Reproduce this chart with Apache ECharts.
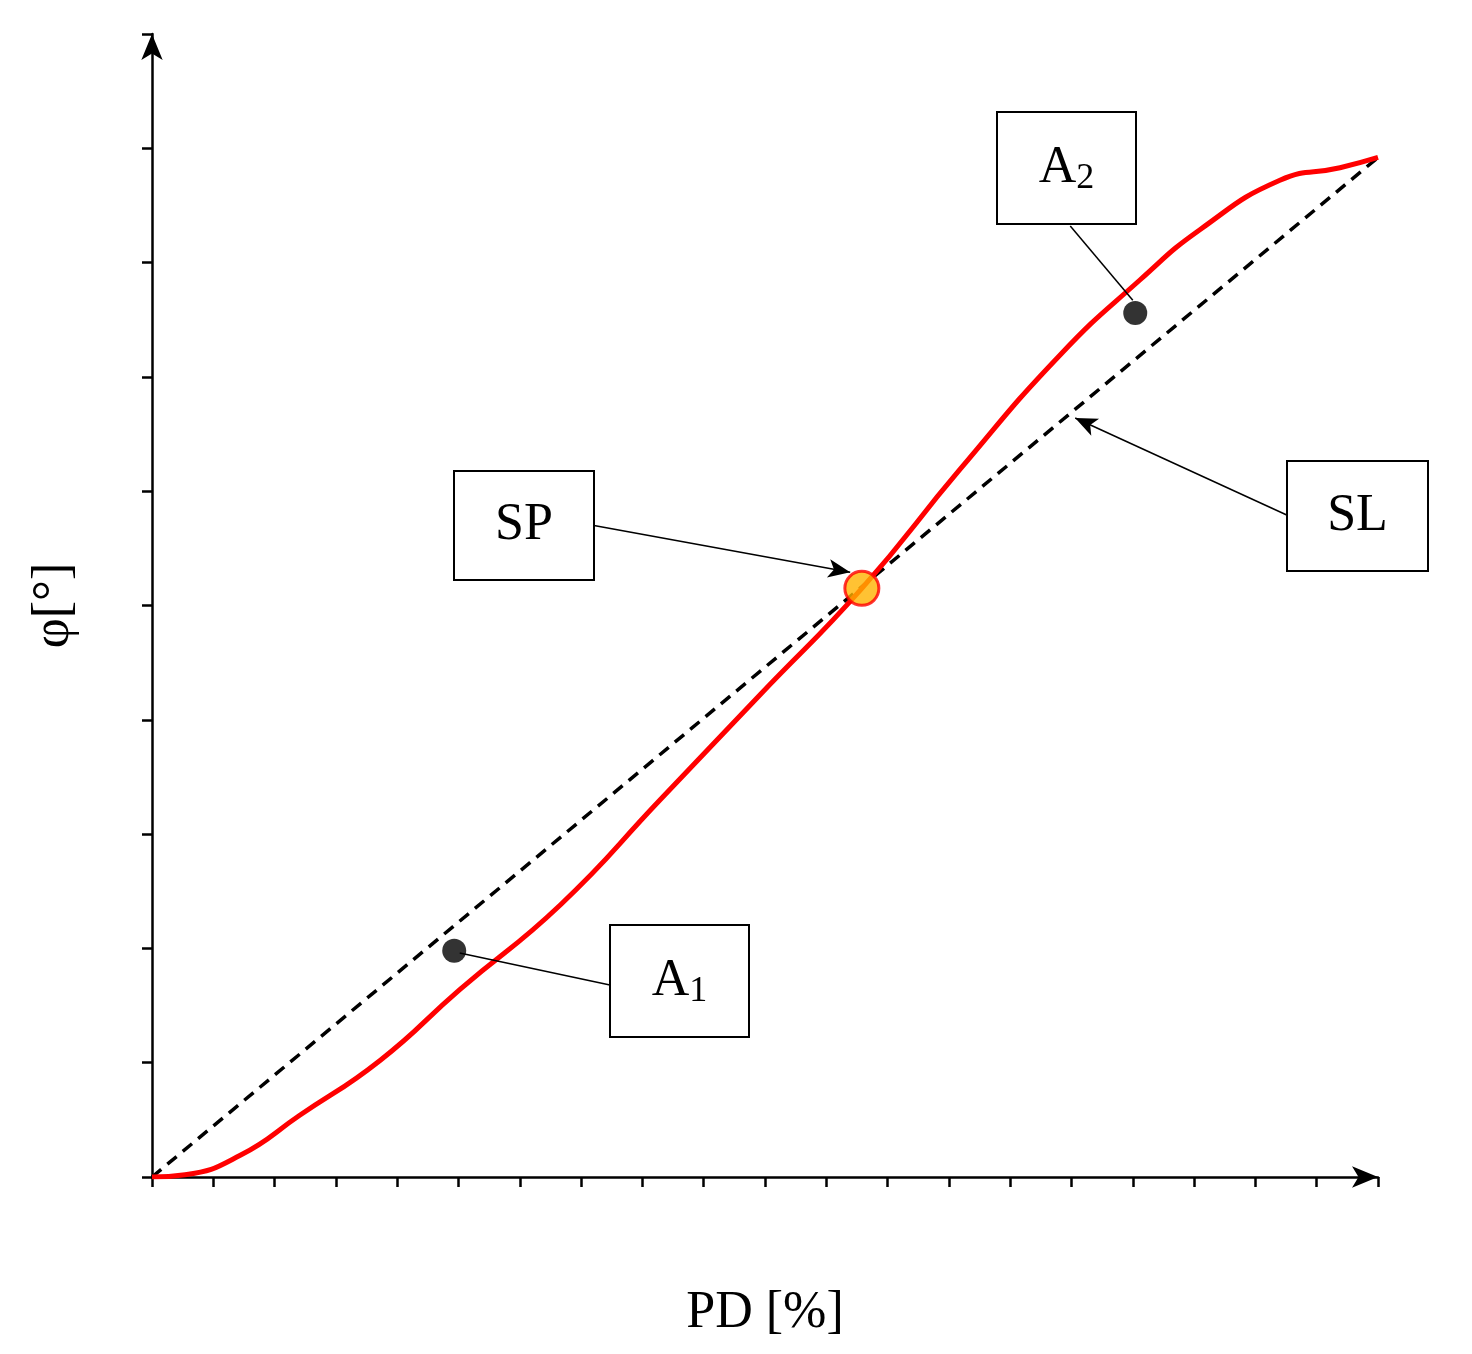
<!DOCTYPE html><html><head><meta charset="utf-8">
<script src="https://cdn.jsdelivr.net/npm/echarts@6/dist/echarts.min.js"></script>
<style>html,body{margin:0;background:#fff}#c{width:1472px;height:1354px}</style></head><body><div id="c"></div><script>
const curveX=[0,0.54,1.44,2.41,3.72,5.02,6.66,8.29,9.92,11.58,13.18,14.81,16.12,17.10,18.40,19.38,20];
const curveY=[0,0.02,0.19,0.54,1.02,1.64,2.38,3.30,4.22,5.15,6.19,7.19,7.85,8.29,8.72,8.83,8.92];
const lineX=[0,20], lineY=[0,8.92];
const spPoint=[11.58,5.15];
const dots=[[4.93,1.98],[16.04,7.56]];
const F='Liberation Serif';
const c=echarts.init(document.getElementById('c'));
const ax=(inside)=>({type:'value',min:0,max:20,interval:1,axisLabel:{show:false},splitLine:{show:false},
 axisLine:{show:!inside,lineStyle:{color:'#000',width:2.5},symbol:['none','arrow'],symbolSize:[16,26]},
 axisTick:{show:true,inside:inside,length:10,lineStyle:{color:'#000',width:2.5}}});
const ay=(inside)=>({type:'value',min:0,max:10,interval:1,axisLabel:{show:false},splitLine:{show:false},
 axisLine:{show:!inside,lineStyle:{color:'#000',width:2.5},symbol:['none','arrow'],symbolSize:[16,26]},
 axisTick:{show:true,inside:inside,length:10,lineStyle:{color:'#000',width:2.5}}});
const x1=ax(false);x1.name='PD [%]';x1.nameLocation='middle';x1.nameGap=110;x1.nameTextStyle={fontFamily:F,fontSize:52,color:'#000'};
const y1=ay(false);y1.name='φ[°]';y1.nameLocation='middle';y1.nameGap=72;y1.nameTextStyle={fontFamily:F,fontSize:52,color:'#000'};
const y2=ay(true);y2.max=10;
const yTicks2=Object.assign(y2,{});
const ml=(a,b,arrow)=>[{coord:a,symbol:'none'},{coord:b,symbol:arrow?'arrow':'none',symbolSize:[14,22]}];
const box=(x,y,w,h,rich)=>({type:'group',children:[
 {type:'rect',shape:{x:x,y:y,width:w,height:h},style:{fill:'#fff',stroke:'#000',lineWidth:2},z:10},
 {type:'text',x:x+w/2,y:y+h/2,style:{text:rich,align:'center',verticalAlign:'middle',fontFamily:F,fontSize:52,fill:'#000',
  rich:{s:{fontFamily:F,fontSize:36,verticalAlign:'bottom',padding:[22,0,0,0]},n:{fontFamily:F,fontSize:52}}},z:11}]});
c.setOption({animation:false,
 grid:{left:152,right:94,top:34,bottom:177},
 xAxis:[x1,ax(true)],
 yAxis:[y1,y2],
 series:[
  {type:'line',data:lineX.map((v,i)=>[v,lineY[i]]),showSymbol:false,lineStyle:{color:'#000',width:3.5,type:[12,8]},z:2,
   markLine:{silent:true,label:{show:false},lineStyle:{color:'#000',width:1.5,type:'solid'},data:[
    ml([18.52,5.79],[15.06,6.64],true),ml([7.21,5.70],[11.39,5.29],true),
    ml([14.98,8.32],[16.0,7.67],false),ml([7.47,1.68],[5.02,1.96],false)]}},
  {type:'line',data:curveX.map((v,i)=>[v,curveY[i]]),smooth:true,showSymbol:false,lineStyle:{color:'#f00',width:5},z:3},
  {type:'scatter',data:dots,symbolSize:24,itemStyle:{color:'#000'},z:4},
  {type:'scatter',data:[spPoint],symbolSize:34,itemStyle:{color:'#ffb300',borderColor:'#f00',borderWidth:3},z:5}
 ],
 graphic:[
  box(997,112,139,112,'{n|A}{s|2}'),
  box(1287,461,141,110,'SL'),
  box(454,471,140,109,'SP'),
  box(610,925,139,112,'{n|A}{s|1}')
 ]});
</script></body></html>
